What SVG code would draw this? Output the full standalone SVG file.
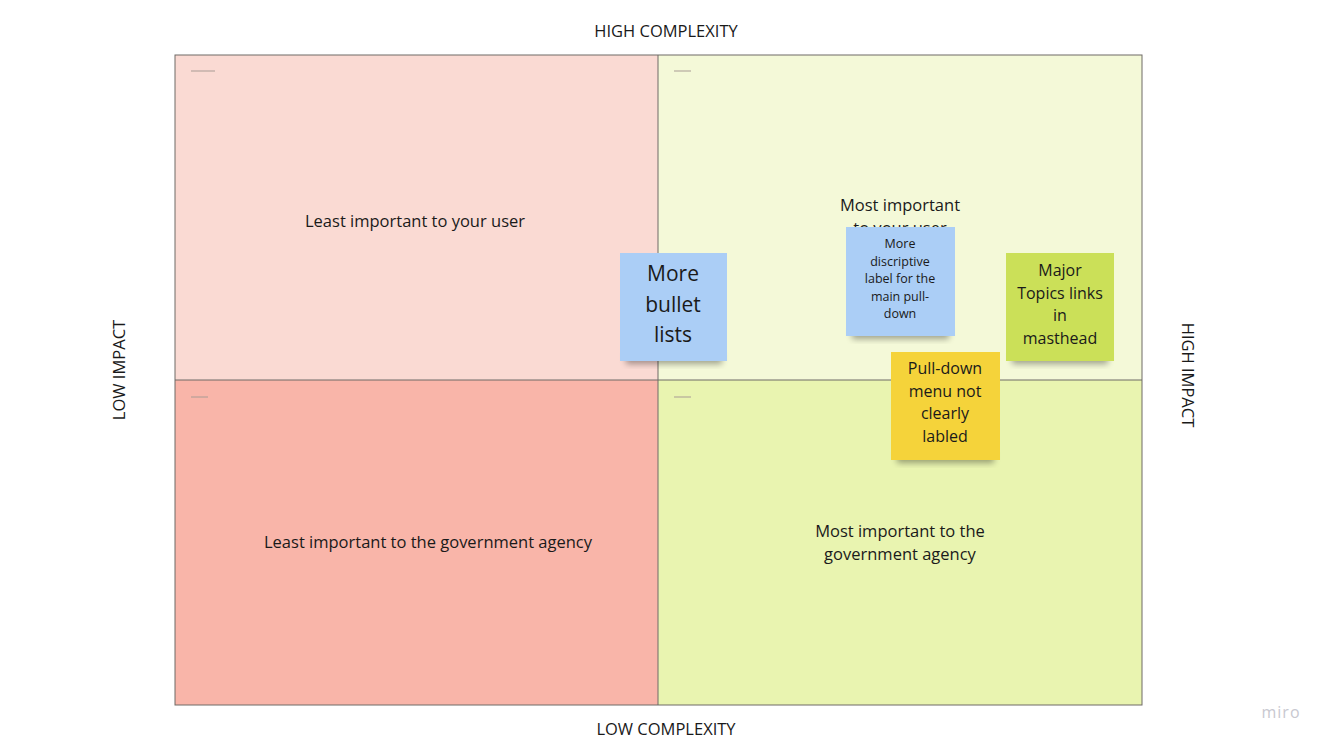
<svg xmlns="http://www.w3.org/2000/svg" width="1333" height="749" viewBox="0 0 1333 749">
<defs>
<style>
text{font-family:"Open Sans","Noto Sans","Liberation Sans",sans-serif;fill:#1a1a1a;text-anchor:middle;dominant-baseline:central}
.axis{font-size:16.5px}
.ql{font-size:16.5px}
.dash{stroke:#a89b94;stroke-width:1}
.n1{font-size:21px}
.n2{font-size:12.5px}
.n3{font-size:16px}
</style>
<filter id="sh" x="-20%" y="-20%" width="140%" height="160%">
<feGaussianBlur stdDeviation="3"/>
</filter>
</defs>
<rect width="1333" height="749" fill="#ffffff"/>
<g id="axes">
<text class="axis" x="666" y="30">HIGH COMPLEXITY</text>
<text class="axis" x="666" y="728">LOW COMPLEXITY</text>
<text class="axis" transform="translate(118,370) rotate(-90)">LOW IMPACT</text>
<text class="axis" transform="translate(1188,375) rotate(90)">HIGH IMPACT</text>
</g>
<g id="q-tl">
<rect x="175" y="55" width="483" height="325" fill="#fadad3"/>
<line class="dash" x1="191" y1="71" x2="215" y2="71"/>
<text class="ql" x="415" y="220">Least important to your user</text>
</g>
<g id="q-tr">
<rect x="658" y="55" width="484" height="325" fill="#f4f9d8"/>
<line class="dash" x1="674" y1="71" x2="691" y2="71"/>
<text class="ql" x="900" y="204">Most important</text>
<text class="ql" x="900" y="227">to your user</text>
</g>
<g id="q-bl">
<rect x="175" y="380" width="483" height="325" fill="#f9b5a9"/>
<line class="dash" x1="191" y1="397" x2="208" y2="397"/>
<text class="ql" x="428" y="541">Least important to the government agency</text>
</g>
<g id="q-br">
<rect x="658" y="380" width="484" height="325" fill="#e9f4b0"/>
<line class="dash" x1="674" y1="397" x2="691" y2="397"/>
<text class="ql" x="900" y="530">Most important to the</text>
<text class="ql" x="900" y="553">government agency</text>
</g>
<g id="grid" fill="none" stroke="#6f6a66" stroke-width="1">
<rect x="175" y="55" width="967" height="650"/>
<line x1="658" y1="55" x2="658" y2="705"/>
<line x1="175" y1="380" x2="1142" y2="380"/>
</g>
<g id="note-bullets">
<rect x="626" y="352" width="96" height="12" fill="#000" opacity="0.35" filter="url(#sh)"/>
<rect x="620" y="253" width="107" height="108" fill="#abcef6"/>
<text class="n1" x="673" y="273">More</text>
<text class="n1" x="673" y="304">bullet</text>
<text class="n1" x="673" y="334">lists</text>
</g>
<g id="note-label">
<rect x="852" y="327" width="97" height="12" fill="#000" opacity="0.35" filter="url(#sh)"/>
<rect x="846" y="227" width="109" height="109" fill="#abcef6"/>
<text class="n2" x="900" y="243">More</text>
<text class="n2" x="900" y="261">discriptive</text>
<text class="n2" x="900" y="278">label for the</text>
<text class="n2" x="900" y="296">main pull-</text>
<text class="n2" x="900" y="313">down</text>
</g>
<g id="note-topics">
<rect x="1012" y="352" width="96" height="12" fill="#000" opacity="0.35" filter="url(#sh)"/>
<rect x="1006" y="253" width="108" height="108" fill="#cbe058"/>
<text class="n3" x="1060" y="270">Major</text>
<text class="n3" x="1060" y="293">Topics links</text>
<text class="n3" x="1060" y="315">in</text>
<text class="n3" x="1060" y="338">masthead</text>
</g>
<g id="note-pulldown">
<rect x="897" y="451" width="97" height="12" fill="#000" opacity="0.35" filter="url(#sh)"/>
<rect x="891" y="352" width="109" height="108" fill="#f5d33a"/>
<text class="n3" x="945" y="368">Pull-down</text>
<text class="n3" x="945" y="391">menu not</text>
<text class="n3" x="945" y="413">clearly</text>
<text class="n3" x="945" y="436">labled</text>
</g>
<text x="1281" y="712" style="font-size:16px;fill:#c8c8d0;letter-spacing:1px">miro</text>
</svg>
